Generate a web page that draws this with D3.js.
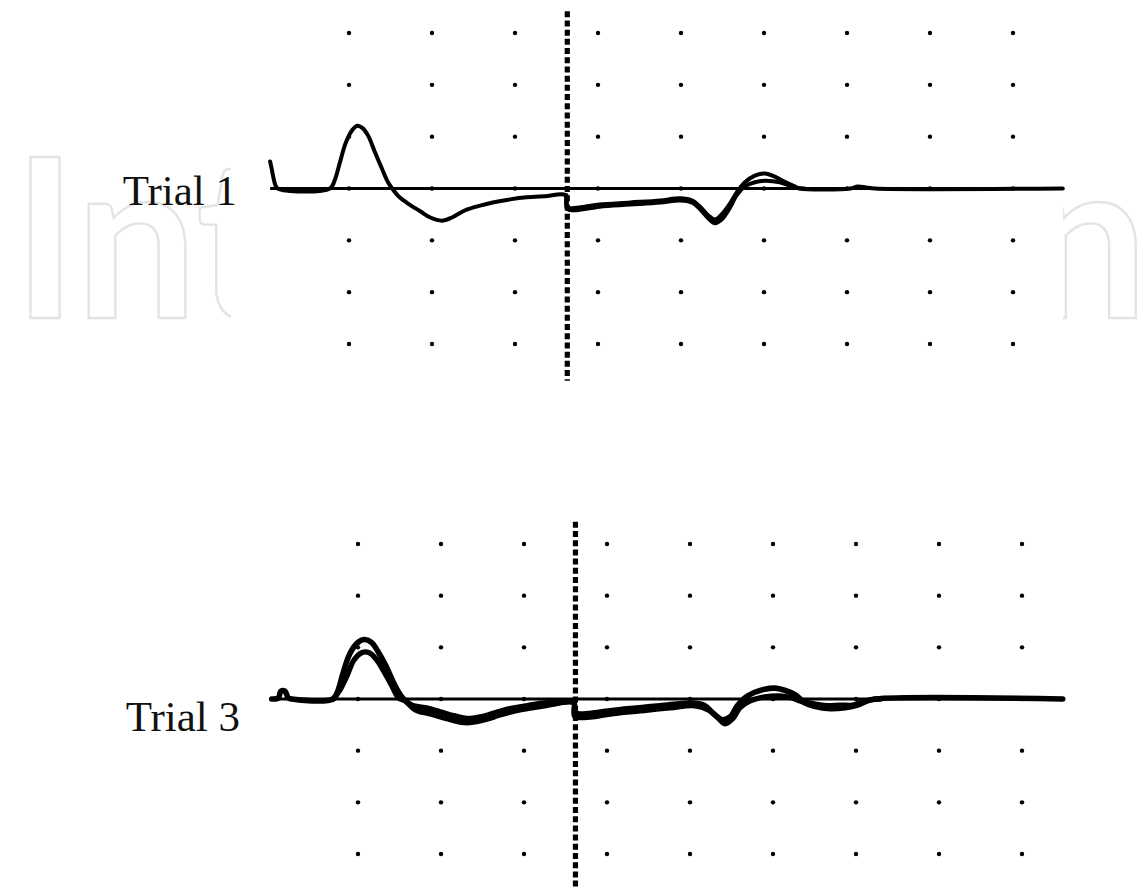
<!DOCTYPE html>
<html>
<head>
<meta charset="utf-8">
<script src="https://cdn.jsdelivr.net/npm/d3@7"></script>
<style>
  html, body { margin: 0; padding: 0; background: #fff; }
  svg { display: block; }
</style>
</head>
<body>
<svg id="chart" width="1140" height="890"></svg>
<script>
// ---------- DATA (x and y in screen divisions) ----------
const gridCols = [0, 1, 2, 3, 4, 5, 6, 7, 8];
const gridRows = [-3, -2, -1, 0, 1, 2, 3];
const trialLabels = ["Trial 1", "Trial 3"];
const watermarkText = "IntechOpen";

// stimulus marker (dashed vertical) per trial: x, yTop, yBottom
const stimulus1 = [2.63, 3.42, -3.71];
const stimulus3 = [2.62, 3.43, -3.66];

// zero-line extent per trial: [xStart, xEnd]
const zeroLine1 = [-0.95, 8.60];
const zeroLine3 = [-1.04, 8.49];

// Trial 1 sweeps [x, y]
const trial1SweepA = [
  [-0.95,0.52],[-0.93,0.37],[-0.89,0.08],[-0.86,0],[-0.23,0],[-0.17,0.17],[-0.11,0.50],
  [-0.04,0.88],[0.04,1.13],[0.10,1.21],[0.16,1.17],[0.23,1.02],[0.31,0.71],[0.40,0.37],
  [0.47,0.12],[0.52,0],[0.61,-0.17],[0.73,-0.31],[0.86,-0.44],[0.98,-0.56],[1.12,-0.62],
  [1.24,-0.56],[1.40,-0.42],[1.58,-0.33],[1.73,-0.27],[1.94,-0.21],[2.14,-0.17],[2.36,-0.15],
  [2.61,-0.13],[2.63,-0.37],[2.66,-0.38],[2.84,-0.35],[3.02,-0.31],[3.39,-0.27],[3.75,-0.23],
  [3.99,-0.19],[4.13,-0.23],[4.23,-0.35],[4.33,-0.52],[4.41,-0.60],[4.49,-0.50],[4.59,-0.29],
  [4.67,-0.08],[4.77,0.12],[4.89,0.25],[5.01,0.29],[5.13,0.23],[5.25,0.13],[5.37,0.04],
  [5.43,0],[6.04,0],[6.13,0.04],[6.23,0.02],[6.34,0],[8.60,0]
];
const trial1SweepB = [
  [2.62,-0.13],[2.63,-0.40],[2.72,-0.42],[3.02,-0.35],[3.39,-0.31],[3.75,-0.27],[3.99,-0.23],
  [4.13,-0.27],[4.23,-0.40],[4.33,-0.58],[4.41,-0.67],[4.49,-0.60],[4.59,-0.37],[4.67,-0.13],
  [4.77,0.04],[4.89,0.12],[5.01,0.15],[5.19,0.12],[5.37,0.02],[5.49,0]
];

// Trial 3 sweeps [x, y]
const trial3SweepA = [
  [-1.04,0],[-0.96,0.02],[-0.93,0.15],[-0.88,0.15],[-0.84,0.02],[-0.80,0],[-0.30,0],
  [-0.24,0.17],[-0.18,0.50],[-0.10,0.87],[-0.01,1.08],[0.07,1.15],[0.16,1.10],[0.24,0.92],
  [0.34,0.63],[0.43,0.31],[0.51,0.08],[0.55,0],[0.65,-0.12],[0.81,-0.17],[0.99,-0.25],
  [1.17,-0.33],[1.31,-0.38],[1.47,-0.35],[1.65,-0.27],[1.83,-0.19],[2.04,-0.13],[2.25,-0.08],
  [2.43,-0.06],[2.60,-0.06],[2.61,-0.25],[2.67,-0.29],[2.92,-0.25],[3.24,-0.19],[3.64,-0.13],
  [4.04,-0.08],[4.18,-0.13],[4.29,-0.29],[4.39,-0.40],[4.48,-0.35],[4.57,-0.13],[4.66,0.02],
  [4.78,0.13],[4.90,0.19],[5.02,0.21],[5.14,0.17],[5.27,0.08],[5.36,-0.04],[5.51,-0.10],
  [5.65,-0.13],[5.81,-0.12],[5.96,-0.12],[6.07,-0.06],[6.23,0],[8.49,0]
];
const trial3SweepB = [
  [-0.30,0],[-0.22,0.17],[-0.13,0.46],[-0.05,0.75],[0.05,0.90],[0.13,0.90],[0.22,0.77],
  [0.31,0.54],[0.41,0.25],[0.49,0.02],[0.57,-0.04],[0.69,-0.21],[0.87,-0.29],[1.11,-0.40],
  [1.31,-0.46],[1.53,-0.40],[1.71,-0.31],[1.95,-0.21],[2.25,-0.13],[2.60,-0.08],[2.61,-0.33],
  [2.80,-0.35],[3.04,-0.29],[3.40,-0.23],[3.76,-0.17],[4.06,-0.13],[4.22,-0.21],[4.34,-0.37],
  [4.42,-0.48],[4.52,-0.37],[4.60,-0.17],[4.72,-0.04],[4.90,0.04],[5.08,0.06],[5.23,0.02],
  [5.33,-0.04],[5.51,-0.15],[5.69,-0.19],[5.87,-0.17],[6.02,-0.12],[6.17,-0.02],[6.29,0]
];

// ---------- DRAWING ----------
const svg = d3.select("#chart");

// faint watermark
svg.append("text")
  .attr("x", 13).attr("y", 318)
  .attr("font-family", "Lato, 'Open Sans', sans-serif")
  .attr("font-weight", 700)
  .attr("font-size", 222)
  .attr("textLength", 1135)
  .attr("lengthAdjust", "spacingAndGlyphs")
  .attr("fill", "#fff")
  .attr("stroke", "#e4e4e4")
  .attr("stroke-width", 2.4)
  .text(watermarkText);

// white picture area covering watermark middle
svg.append("rect")
  .attr("x", 231).attr("y", 0).attr("width", 832).attr("height", 890)
  .attr("fill", "#fff");

const panels = [
  { label: trialLabels[0], xr: [349, 1013], yr: [344, 33], labelX: 237, labelY: 205,
    stim: stimulus1, zero: zeroLine1, sweeps: [trial1SweepA, trial1SweepB], widths: [4.0, 4.0] },
  { label: trialLabels[1], xr: [358, 1022], yr: [854, 544], labelX: 240, labelY: 731,
    stim: stimulus3, zero: zeroLine3, sweeps: [trial3SweepA, trial3SweepB], widths: [5.6, 5.4] }
];

panels.forEach(p => {
  const x = d3.scaleLinear().domain([0, 8]).range(p.xr);
  const y = d3.scaleLinear().domain([-3, 3]).range(p.yr);
  const g = svg.append("g");

  // grid dots
  const pts = [];
  gridRows.forEach(r => gridCols.forEach(c => pts.push([c, r])));
  g.selectAll("circle.dot").data(pts).join("circle")
    .attr("class", "dot")
    .attr("cx", d => x(d[0])).attr("cy", d => y(d[1]))
    .attr("r", 2.2).attr("fill", "#000");

  // zero line
  g.append("line")
    .attr("x1", x(p.zero[0])).attr("x2", x(p.zero[1]))
    .attr("y1", y(0)).attr("y2", y(0))
    .attr("stroke", "#000").attr("stroke-width", 3.0);

  // stimulus marker
  g.append("line")
    .attr("x1", x(p.stim[0])).attr("x2", x(p.stim[0]))
    .attr("y1", y(p.stim[1])).attr("y2", y(p.stim[2]))
    .attr("stroke", "#000").attr("stroke-width", 5.2)
    .attr("stroke-dasharray", "6 3.2");

  // traces
  const line = d3.line().x(d => x(d[0])).y(d => y(d[1])).curve(d3.curveCatmullRom.alpha(0.5));
  p.sweeps.forEach((s, i) => {
    g.append("path").datum(s)
      .attr("d", line)
      .attr("fill", "none")
      .attr("stroke", "#000")
      .attr("stroke-width", p.widths[i])
      .attr("stroke-linejoin", "round")
      .attr("stroke-linecap", "round");
  });

  // label
  svg.append("text")
    .attr("x", p.labelX).attr("y", p.labelY)
    .attr("text-anchor", "end")
    .attr("font-family", "'Liberation Serif', 'Times New Roman', serif")
    .attr("font-size", 43)
    .attr("fill", "#111")
    .text(p.label);
});
</script>
</body>
</html>
